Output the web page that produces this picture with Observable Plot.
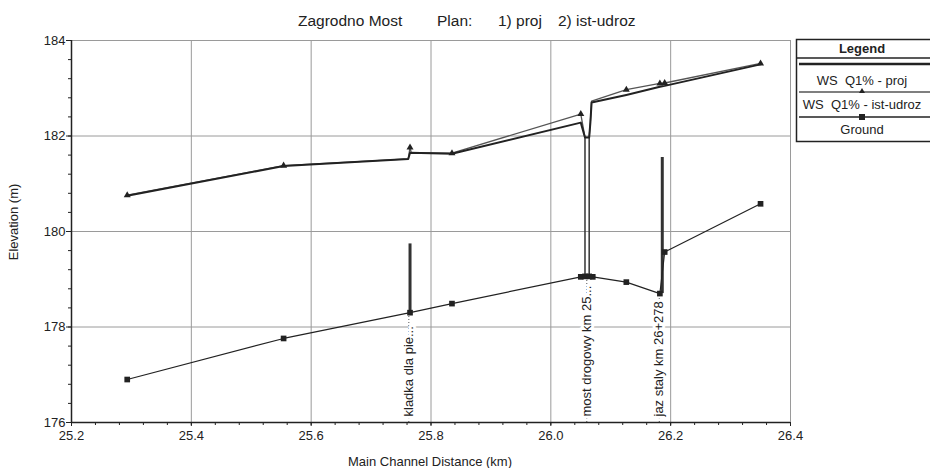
<!DOCTYPE html>
<html>
<head>
<meta charset="utf-8">
<script src="https://cdn.jsdelivr.net/npm/d3@7"></script>
<script src="https://cdn.jsdelivr.net/npm/@observablehq/plot@0.6"></script>
<style>
  html, body { margin: 0; padding: 0; background: #fff; }
  #wrap { position: relative; width: 930px; height: 468px; font-family: "Liberation Sans", Arial, sans-serif; color: #222; }
  .t { position: absolute; white-space: pre; font-size: 15.5px; line-height: 1; }
  .lab { position: absolute; font-size: 13px; white-space: pre; line-height: 1; }
</style>
</head>
<body>
<div id="wrap"></div>
<script>
// ---- data ----
const titleParts = ["Zagrodno Most", "Plan:", "1) proj", "2) ist-udroz"];
const xLabel = "Main Channel Distance (km)";
const yLabel = "Elevation (m)";
const seriesNames = ["WS  Q1% - proj", "WS  Q1% - ist-udroz", "Ground"];

const xTicks = [25.2, 25.4, 25.6, 25.8, 26.0, 26.2, 26.4];
const yTicks = [176, 178, 180, 182, 184];

// WS Q1% - proj
const wsProjKm   = [25.293, 25.554, 25.762, 25.765, 25.835, 26.050, 26.057, 26.064, 26.066, 26.068, 26.126, 26.182, 26.190, 26.350];
const wsProjElev = [180.75, 181.37, 181.52, 181.65, 181.63, 182.28, 181.97, 181.97, 182.28, 182.70, 182.86, 183.03, 183.05, 183.50];

// WS Q1% - ist-udroz
const wsIstKm   = [25.293, 25.554, 25.762, 25.765, 25.767, 25.835, 26.050, 26.057, 26.064, 26.066, 26.068, 26.126, 26.182, 26.190, 26.350];
const wsIstElev = [180.76, 181.38, 181.52, 181.76, 181.65, 181.64, 182.46, 181.97, 181.97, 182.30, 182.73, 182.97, 183.10, 183.11, 183.52];
const crossSections = [25.293, 25.554, 25.765, 25.835, 26.050, 26.126, 26.182, 26.190, 26.350];

// Ground
const groundKm   = [25.293, 25.554, 25.765, 25.835, 26.050, 26.057, 26.064, 26.070, 26.126, 26.182, 26.190, 26.350];
const groundElev = [176.90, 177.76, 178.30, 178.49, 179.05, 179.06, 179.06, 179.05, 178.94, 178.70, 179.57, 180.58];

// structures
const structNames = ["kladka dla pie...", "most drogowy km 25...", "jaz staly km 26+278"];
const structLabelKm = [25.763, 26.060, 26.181];
const structGroundElev = [178.30, 179.05, 178.70];
// obstruction segments: km, bottom, top
const deckKm = [25.765, 26.186];
const deckBottom = [178.30, 178.70];
const deckTop = [179.74, 181.55];
const bridgeKm = [26.057, 26.064];
const bridgeBottom = [179.06, 179.06];
const bridgeTop = [181.97, 181.97];

// ---- build tables ----
const wsProj = wsProjKm.map((x, i) => ({x, y: wsProjElev[i]}));
const wsIst = wsIstKm.map((x, i) => ({x, y: wsIstElev[i]}));
const wsIstMarks = wsIst.filter(d => crossSections.includes(d.x));
const ground = groundKm.map((x, i) => ({x, y: groundElev[i]}));
const labels = structNames.map((name, i) => ({name, x: structLabelKm[i], g: structGroundElev[i]}));
const decks = deckKm.map((x, i) => ({x, y1: deckBottom[i], y2: deckTop[i]}));
const bridges = bridgeKm.map((x, i) => ({x, y1: bridgeBottom[i], y2: bridgeTop[i]}));

const grid = "#9a9a9a";
const ink = "#222";

const chart = Plot.plot({
  width: 930,
  height: 468,
  marginLeft: 71,
  marginRight: 140,
  marginTop: 40,
  marginBottom: 46,
  style: {fontFamily: '"Liberation Sans", Arial, sans-serif', fontSize: "13px", color: ink, background: "transparent"},
  x: {domain: [25.2, 26.4], label: null},
  y: {domain: [176, 184], label: null},
  marks: [
    Plot.gridX(xTicks, {stroke: grid, strokeOpacity: 1}),
    Plot.gridY(yTicks, {stroke: grid, strokeOpacity: 1}),
    // dotted leaders to labels
    Plot.ruleX(labels, {x: "x", y1: 176, y2: "g", stroke: "#555", strokeDasharray: "1,2", strokeWidth: 1}),
    Plot.text(labels, {x: "x", y: 176, text: "name", rotate: -90, textAnchor: "start", dy: -6, fill: ink, stroke: "white", strokeWidth: 6, fontSize: 13}),
    // axes
    Plot.axisY({ticks: d3.range(176, 184.001, 0.4), tickSize: 3, text: null, label: null, stroke: ink}),
    Plot.axisY(yTicks, {tickSize: 5, tickPadding: 1, label: null, fill: ink, stroke: ink, tickFormat: d => d}),
    Plot.axisX({ticks: d3.range(25.2, 26.4001, 0.04), tickSize: 3, text: null, label: null, stroke: ink}),
    Plot.axisX(xTicks, {tickSize: 4, tickPadding: 4, label: null, fill: ink, stroke: ink, tickFormat: d3.format(".1f")}),
    Plot.ruleX([25.2], {stroke: ink, strokeWidth: 1.5}),
    Plot.ruleY([176], {stroke: ink, strokeWidth: 1.5}),
    // structures
    Plot.ruleX(bridges, {x: "x", y1: "y1", y2: "y2", stroke: "#333", strokeWidth: 1.5}),
    Plot.ruleX(decks, {x: "x", y1: "y1", y2: "y2", stroke: "#333", strokeWidth: 3}),
    // series
    Plot.line(ground, {x: "x", y: "y", stroke: ink, strokeWidth: 1.2}),
    Plot.dot(ground, {x: "x", y: "y", symbol: "square", r: 3.2, fill: ink, stroke: null}),
    Plot.line(wsIst, {x: "x", y: "y", stroke: "#555", strokeWidth: 1.3}),
    Plot.dot(wsIstMarks, {x: "x", y: "y", symbol: "triangle", r: 2.6, fill: ink, stroke: null}),
    Plot.line(wsProj, {x: "x", y: "y", stroke: ink, strokeWidth: 2})
  ]
});

const wrap = document.getElementById("wrap");
chart.style.position = "absolute";
chart.style.left = "0px";
chart.style.top = "0px";
wrap.appendChild(chart);

// title
const titleX = [298, 437, 498, 558];
titleParts.forEach((t, i) => {
  const s = document.createElement("div");
  s.className = "t";
  s.textContent = t;
  s.style.left = titleX[i] + "px";
  s.style.top = "13px";
  wrap.appendChild(s);
});

// axis labels
const xl = document.createElement("div");
xl.className = "lab";
xl.textContent = xLabel;
xl.style.left = "430px";
xl.style.top = "455px";
xl.style.transform = "translateX(-50%)";
wrap.appendChild(xl);

const yl = document.createElement("div");
yl.className = "lab";
yl.textContent = yLabel;
yl.style.left = "13px";
yl.style.top = "222px";
yl.style.transform = "translate(-50%, -50%) rotate(-90deg)";
wrap.appendChild(yl);

// legend
const lg = d3.create("svg").attr("width", 135).attr("height", 106)
  .style("font-family", '"Liberation Sans", Arial, sans-serif').style("font-size", "13px");
lg.append("rect").attr("x", 1.5).attr("y", 1.5).attr("width", 150).attr("height", 102)
  .attr("fill", "white").attr("stroke", ink).attr("stroke-width", 1.5);
lg.append("line").attr("x1", 1.5).attr("x2", 135).attr("y1", 20).attr("y2", 20).attr("stroke", ink).attr("stroke-width", 1.5);
lg.append("text").attr("x", 67).attr("y", 15).attr("text-anchor", "middle").attr("font-weight", "bold").attr("fill", ink).text("Legend");
const cx = 67;
// proj sample
lg.append("line").attr("x1", 4).attr("x2", 135).attr("y1", 26).attr("y2", 26).attr("stroke", ink).attr("stroke-width", 2.5);
lg.append("text").attr("x", cx).attr("y", 47).attr("text-anchor", "middle").attr("fill", ink).style("white-space", "pre").text(seriesNames[0]);
// ist sample
lg.append("line").attr("x1", 4).attr("x2", 135).attr("y1", 54).attr("y2", 54).attr("stroke", "#555").attr("stroke-width", 1.3);
lg.append("path").attr("d", `M${cx},50L${cx+3},55L${cx-3},55Z`).attr("fill", ink);
lg.append("text").attr("x", cx).attr("y", 71).attr("text-anchor", "middle").attr("fill", ink).style("white-space", "pre").text(seriesNames[1]);
// ground sample
lg.append("line").attr("x1", 4).attr("x2", 135).attr("y1", 79).attr("y2", 79).attr("stroke", ink).attr("stroke-width", 1.3);
lg.append("rect").attr("x", cx - 3).attr("y", 76).attr("width", 6).attr("height", 6).attr("fill", ink);
lg.append("text").attr("x", cx).attr("y", 96).attr("text-anchor", "middle").attr("fill", ink).text(seriesNames[2]);
const lnode = lg.node();
lnode.style.position = "absolute";
lnode.style.left = "795px";
lnode.style.top = "38px";
wrap.appendChild(lnode);
</script>
</body>
</html>
